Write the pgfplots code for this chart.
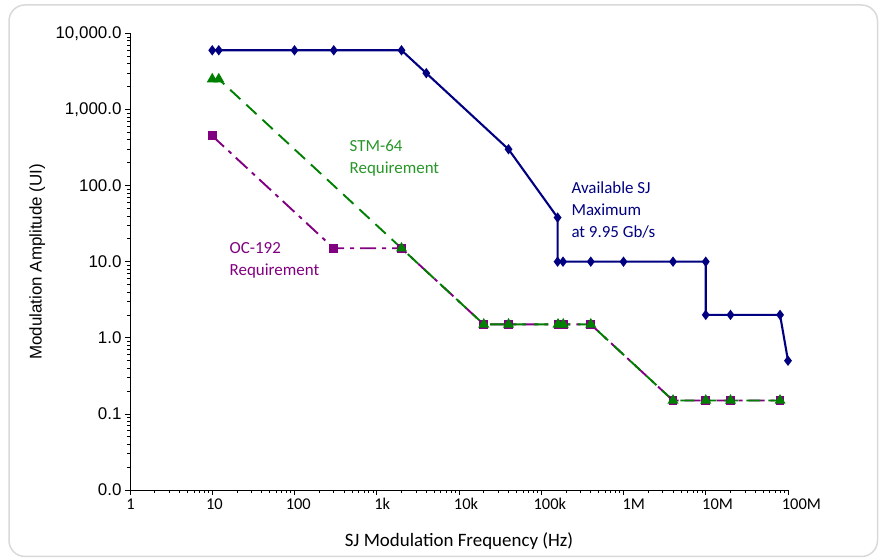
\documentclass[border=0pt]{standalone}
\usepackage{pgfplots}
\pgfplotsset{compat=1.18}
\usepackage{fontspec}
\setmainfont{Carlito}
\newfontfamily\arialf{Liberation Sans}
\definecolor{sjblue}{RGB}{0,0,128}
\definecolor{stmgreen}{RGB}{0,128,0}
\definecolor{stmtext}{RGB}{40,150,40}
\definecolor{ocpurple}{RGB}{128,0,128}
\definecolor{framegray}{RGB}{217,217,217}
\begin{document}
\begin{tikzpicture}[x=1bp,y=1bp]
\useasboundingbox (0,0) rectangle (879,560);
\draw[framegray, line width=1.5bp, rounded corners=16bp] (9,3.5) rectangle (877.5,555);
\begin{axis}[
  at={(130bp,70bp)}, anchor=south west,
  scale only axis, width=658bp, height=456.6bp,
  xmode=log, ymode=log,
  xmin=1, xmax=1e8, ymin=1e-2, ymax=1e4,
  axis x line*=bottom, axis y line*=left,
  axis line style={black, line width=0.8bp},
  tick align=outside,
  major tick length=5bp, minor tick length=3bp,
  tick style={black, line width=0.7bp},
  xtick={1,10,100,1000,1e4,1e5,1e6,1e7,1e8},
  xticklabels={\hspace*{1.2bp}1,\hspace*{4.4bp}10,\hspace*{7.6bp}100,\hspace*{10.8bp}1k,\hspace*{14bp}10k,\hspace*{17.2bp}100k,\hspace*{20.4bp}1M,\hspace*{23.6bp}10M,\hspace*{26.8bp}100M},
  minor xtick={2,3,4,5,6,7,8,9,20,30,40,50,60,70,80,90,200,300,400,500,600,700,800,900,2e3,3e3,4e3,5e3,6e3,7e3,8e3,9e3,2e4,3e4,4e4,5e4,6e4,7e4,8e4,9e4,2e5,3e5,4e5,5e5,6e5,7e5,8e5,9e5,2e6,3e6,4e6,5e6,6e6,7e6,8e6,9e6,2e7,3e7,4e7,5e7,6e7,7e7,8e7,9e7},
  ytick={1e-2,1e-1,1,10,100,1000,1e4},
  yticklabels={0.0,0.1,1.0,10.0,100.0,{1,000.0},{10,000.0}},
  minor ytick={2e-2,3e-2,4e-2,5e-2,6e-2,7e-2,8e-2,9e-2,0.2,0.3,0.4,0.5,0.6,0.7,0.8,0.9,2,3,4,5,6,7,8,9,20,30,40,50,60,70,80,90,200,300,400,500,600,700,800,900,2e3,3e3,4e3,5e3,6e3,7e3,8e3,9e3},
  xticklabel style={font=\fontsize{16.5}{18}\selectfont, text=black},
  yticklabel style={font=\arialf\fontsize{17}{19}\selectfont, text=black},
  xlabel={SJ Modulation Frequency (Hz)},
  xlabel style={font=\fontsize{19}{22}\selectfont, at={(axis description cs:0.5,-0.1116)}, anchor=center},
  ylabel={Modulation Amplitude (UI)},
  ylabel style={font=\arialf\fontsize{17}{20}\selectfont, at={(axis description cs:-0.141,0.5)}, anchor=center},
  clip=false,
]
\addplot[ocpurple, line width=1.9bp, dash pattern=on 16bp off 6bp on 4bp off 6bp,
  mark=square*, mark size=3.5bp, mark options={solid}] coordinates {
  (10,450) (300,15) (2000,15) (20000,1.5) (40000,1.5) (160000,1.5) (185000,1.5) (400000,1.5)
  (4e6,0.15) (1e7,0.15) (2e7,0.15) (8e7,0.15)};
\addplot[stmgreen, line width=1.9bp, dash pattern=on 14bp off 8bp,
  mark=triangle*, mark size=4.5bp, mark options={solid}] coordinates {
  (10,2500) (12,2500) (2000,15) (20000,1.5) (40000,1.5) (160000,1.5) (185000,1.5) (400000,1.5)
  (4e6,0.15) (1e7,0.15) (2e7,0.15) (8e7,0.15)};
\addplot[sjblue, line width=2.1bp, mark=diamond*, mark size=3.5bp, mark options={solid}] coordinates {
  (10,6000) (12,6000) (100,6000) (300,6000) (2000,6000) (4000,3000) (40000,300)
  (158000,38) (158000,10) (184000,10) (400000,10) (1e6,10) (4e6,10) (1e7,10)
  (1e7,2) (2e7,2) (8e7,2) (1e8,0.5)};
\node[anchor=west, align=left, text=stmtext, font=\fontsize{17}{22}\selectfont, inner sep=0pt] at (axis cs:466,232) {STM-64\\Requirement};
\node[anchor=west, align=left, text=ocpurple, font=\fontsize{17}{22}\selectfont, inner sep=0pt] at (axis cs:16.2,10.3) {OC-192\\Requirement};
\node[anchor=west, align=left, text=sjblue, font=\fontsize{17}{22}\selectfont, inner sep=0pt] at (axis cs:232000,48) {Available SJ\\Maximum\\at 9.95 Gb/s};
\end{axis}
\end{tikzpicture}
\end{document}
